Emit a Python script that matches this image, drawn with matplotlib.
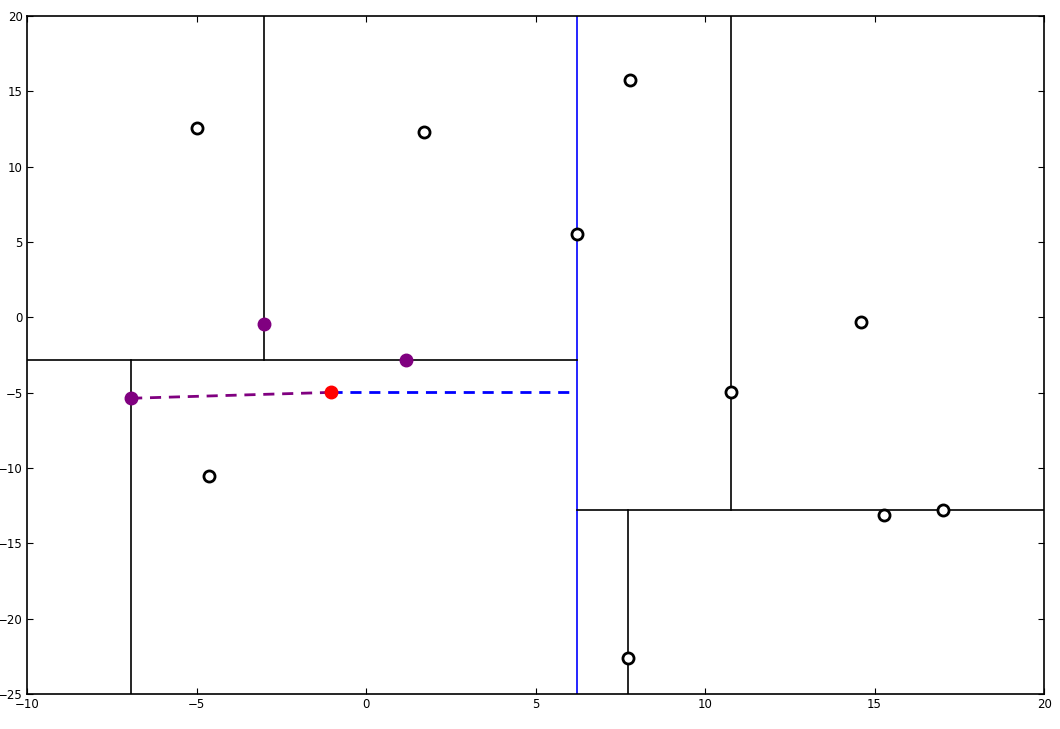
import matplotlib
matplotlib.use("Agg")
import matplotlib.pyplot as plt

# Data points of the kd-tree
pts_x = [-4.99, 1.71, 7.79, 6.22, 14.6, 10.77, 15.28, 17.02, 7.73, -4.63]
pts_y = [12.6, 12.28, 15.73, 5.5, -0.33, -4.98, -13.14, -12.8, -22.63, -10.55]

# Visited nodes (nearest neighbour search) and the query point
visited_x = [-3.01, 1.18, -6.93]
visited_y = [-0.46, -2.85, -5.37]
query = (-1.03, -4.98)

# Splitting lines: (x0, x1, y0, y1)
root_split = (6.22, 6.22, -25, 20)
splits = [
    (-10, 6.22, -2.85, -2.85),
    (-3.01, -3.01, -2.85, 20),
    (-6.93, -6.93, -25, -2.85),
    (6.22, 20, -12.8, -12.8),
    (10.77, 10.77, -12.8, 20),
    (7.73, 7.73, -25, -12.8),
]
nearest = (-6.93, -5.37)

fig = plt.figure(figsize=(10.6, 7.29), dpi=100)
ax = fig.add_axes([0.0255, 0.048, 0.9595, 0.93])

ax.plot(root_split[:2], root_split[2:], color="blue", lw=1.2)
for x0, x1, y0, y1 in splits:
    ax.plot([x0, x1], [y0, y1], color="black", lw=1.2)

# Distance to the nearest candidate and to the root split
ax.plot([nearest[0], query[0]], [nearest[1], query[1]], color="purple", lw=2, ls="--", dashes=(4, 2.8))
ax.plot([query[0], root_split[0] - 0.1], [query[1], query[1]], color="blue", lw=2, ls="--", dashes=(4, 2.8))

ax.plot(pts_x, pts_y, "o", mfc="white", mec="black", mew=2, ms=8)
ax.plot(visited_x, visited_y, "o", color="purple", ms=9)
ax.plot(query[0], query[1], "o", color="red", ms=9)

ax.set_xlim(-10, 20)
ax.set_ylim(-25, 20)
ax.set_xticks(range(-10, 21, 5))
ax.set_yticks(range(-25, 21, 5))
ax.tick_params(direction="in", top=True, right=True, labelsize=8.5, length=4, pad=3)
for s in ax.spines.values():
    s.set_linewidth(1.2)

plt.savefig("out.png", dpi=100)
